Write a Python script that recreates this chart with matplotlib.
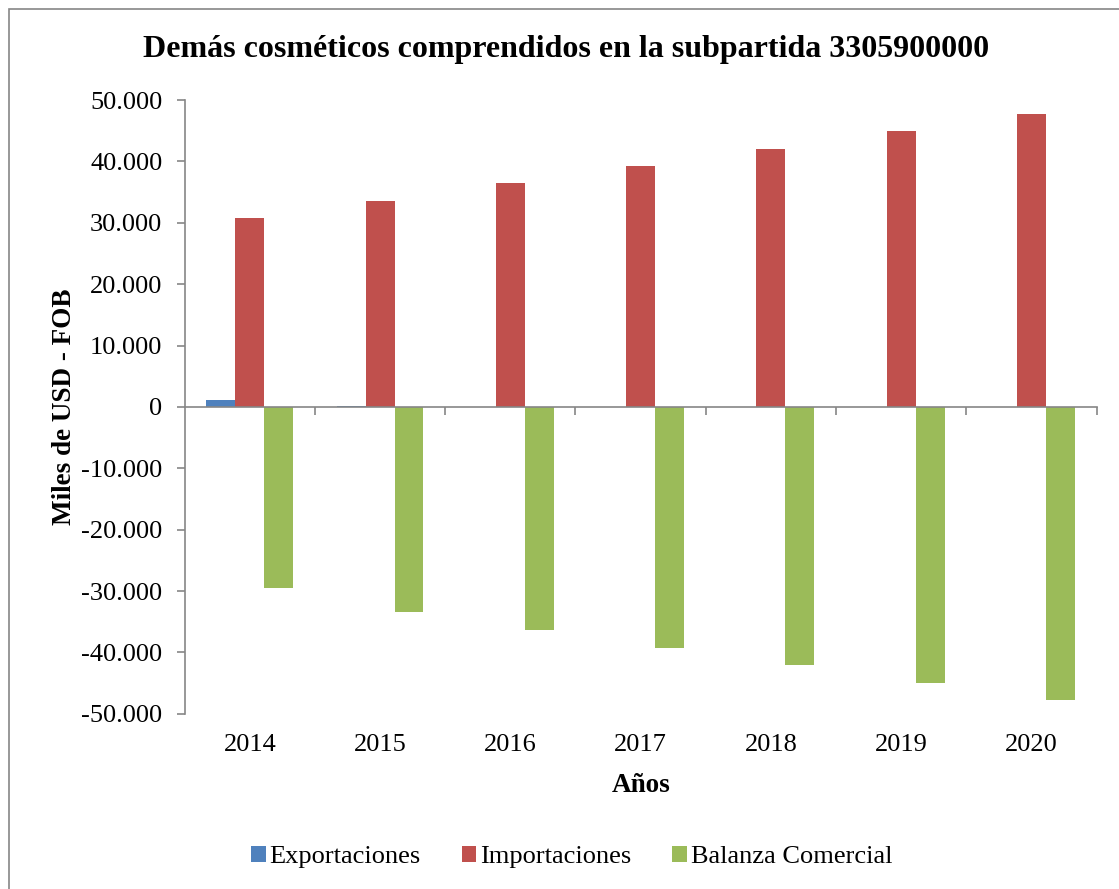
import matplotlib.pyplot as plt
import matplotlib.transforms as mtransforms
from matplotlib.patches import Rectangle
from matplotlib.ticker import FuncFormatter
import numpy as np

plt.rcParams['font.family'] = ['Liberation Serif', 'DejaVu Serif']

# datos (miles de USD FOB)
anios = ['2014', '2015', '2016', '2017', '2018', '2019', '2020']
exportaciones = [1150, 120, 30, 20, 20, 20, 20]
importaciones = [30700, 33500, 36400, 39300, 42100, 45000, 47800]
balanza = [-29550, -33380, -36370, -39280, -42080, -44980, -47780]

colores = ['#4F81BD', '#C0504D', '#9BBB59']
nombres = ['Exportaciones', 'Importaciones', 'Balanza Comercial']
gris = '#868686'

fig = plt.figure(figsize=(11.19, 8.89), dpi=100)
ax = fig.add_axes([0.165, 0.197, 0.815, 0.6905])

x = np.arange(len(anios))
w = 1 / 4.5
for i, serie in enumerate([exportaciones, importaciones, balanza]):
    ax.bar(x + (i - 1) * w, serie, width=w, color=colores[i], label=nombres[i])

ax.set_xlim(-0.5, len(anios) - 0.5)
ax.set_ylim(-50000, 50000)
ax.set_yticks(np.arange(-50000, 50001, 10000))
ax.yaxis.set_major_formatter(FuncFormatter(lambda v, p: '{:,.0f}'.format(v).replace(',', '.')))
ax.tick_params(axis='y', labelsize=19, length=6, width=1.2, color=gris, direction='out', pad=10)

# eje x en el cero con marcas entre categorias
for s in ['top', 'right']:
    ax.spines[s].set_visible(False)
ax.spines['left'].set_color(gris)
ax.spines['left'].set_linewidth(1.2)
ax.spines['bottom'].set_position(('data', 0))
ax.spines['bottom'].set_color(gris)
ax.spines['bottom'].set_linewidth(1.2)
ax.set_xticks(np.arange(0.5, len(anios), 1))
ax.set_xticklabels([])
ax.tick_params(axis='x', length=6, width=1.2, color=gris, direction='out')

trans = mtransforms.blended_transform_factory(ax.transData, ax.transAxes)
for xi, a in zip(x, anios):
    ax.text(xi, -0.033, a, transform=trans, ha='center', va='top', fontsize=19)

ax.set_ylabel('Miles de USD - FOB', fontsize=19.5, fontweight='bold', labelpad=3)
fig.text(0.573, 0.116, 'Años', ha='center', va='center', fontsize=19.5, fontweight='bold')
fig.text(0.506, 0.944, 'Demás cosméticos comprendidos en la subpartida 3305900000',
         ha='center', va='center', fontsize=23, fontweight='bold')

fig.legend(loc='center', bbox_to_anchor=(0.511, 0.036), ncol=3, frameon=False,
           fontsize=19, handlelength=0.55, handleheight=0.55, handletextpad=0.15,
           columnspacing=1.55)

fig.patches.append(Rectangle((0.008, -0.02), 1.1, 1.01, transform=fig.transFigure,
                             fill=False, edgecolor=gris, linewidth=1.2))

fig.savefig('out.png', dpi=100)
